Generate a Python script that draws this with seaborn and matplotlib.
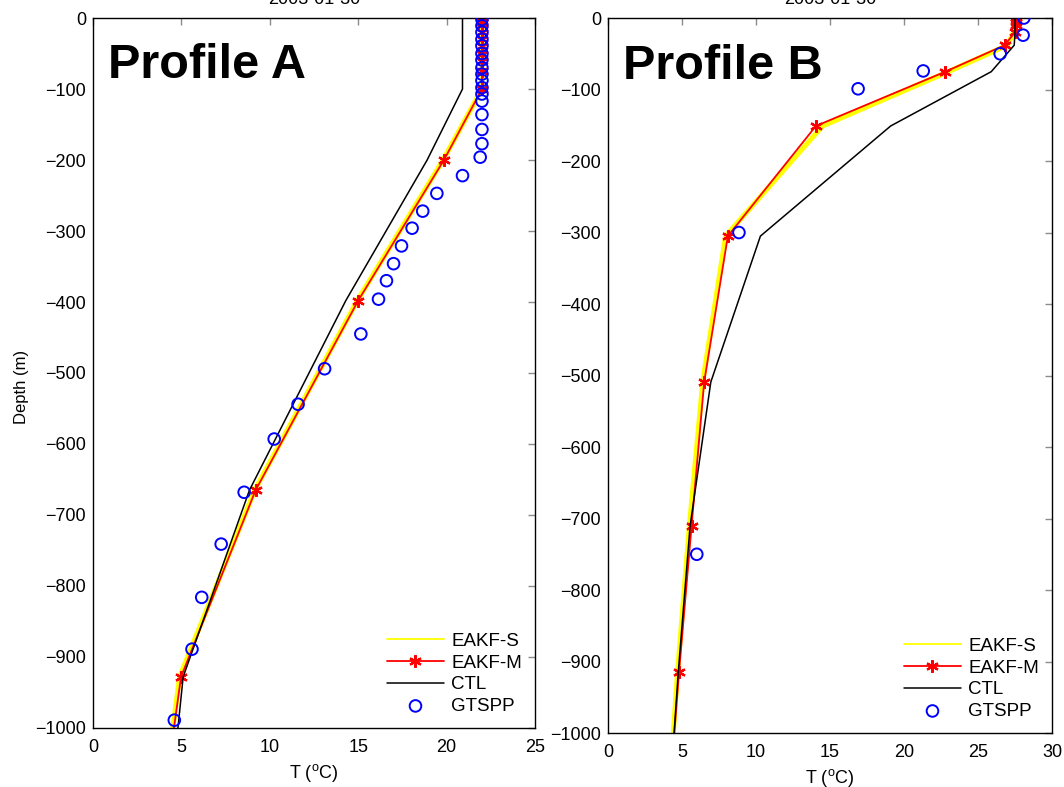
"""
Temperature profiles: EAKF-S / EAKF-M / CTL model runs against GTSPP observations.
"""

import numpy as np
import matplotlib
matplotlib.use("Agg")
import matplotlib.pyplot as plt
import seaborn as sns

# ---- Profile A -------------------------------------------------------------
depth_model_a = [0, 5, 10, 20, 30, 40, 50, 60, 75, 100, 200, 398, 665, 928, 1050]
eakf_s_a = [22.0, 22.0, 22.0, 22.0, 22.0, 22.0, 22.0, 22.0, 22.0, 22.0, 19.8, 14.95, 9.15, 4.9, 4.25]
eakf_m_a = [22.0, 22.0, 22.0, 22.0, 22.0, 22.0, 22.0, 22.0, 22.0, 22.0, 19.85, 15.0, 9.2, 4.98, 4.3]
ctl_a = [20.9, 20.9, 20.9, 20.9, 20.9, 20.9, 20.9, 20.9, 20.9, 20.9, 18.9, 14.3, 8.85, 5.1, 4.6]

depth_obs_a = [2, 11, 20, 30, 39, 50, 59, 70, 79, 88, 98, 107, 117, 136, 157, 177, 196,
               222, 247, 272, 296, 321, 346, 370, 396, 445, 494, 544, 593, 668, 741,
               816, 889, 989]
gtspp_a = [22.0, 22.0, 22.0, 22.0, 22.0, 22.0, 22.0, 22.0, 22.0, 22.0, 22.0, 22.0, 22.0,
           22.0, 22.0, 22.0, 21.9, 20.9, 19.45, 18.65, 18.05, 17.45, 17.0, 16.6, 16.15,
           15.15, 13.1, 11.6, 10.25, 8.55, 7.25, 6.15, 5.6, 4.6]

# ---- Profile B -------------------------------------------------------------
depth_model_b = [0, 5, 10, 20, 38, 75, 151, 305, 509, 710, 915, 1050]
eakf_s_b = [27.6, 27.6, 27.55, 27.4, 27.0, 23.0, 14.5, 7.95, 6.4, 5.5, 4.7, 4.25]
eakf_m_b = [27.6, 27.6, 27.6, 27.5, 26.8, 22.8, 14.05, 8.1, 6.5, 5.65, 4.8, 4.3]
ctl_b = [27.5, 27.5, 27.5, 27.5, 27.45, 25.9, 19.1, 10.3, 6.95, 5.55, 4.75, 4.3]

depth_obs_b = [0, 24, 50, 74, 99, 300, 750]
gtspp_b = [28.1, 28.05, 26.5, 21.3, 16.9, 8.85, 6.0]

date_label = "2003-01-30"
x_ticks_a = [0, 5, 10, 15, 20, 25]
x_ticks_b = [0, 5, 10, 15, 20, 25, 30]
y_ticks = list(range(-1000, 1, 100))

sns.set_style("white")
plt.rcParams["font.family"] = ["Liberation Sans", "DejaVu Sans"]
plt.rcParams["mathtext.fontset"] = "custom"
plt.rcParams["mathtext.rm"] = "Liberation Sans"
plt.rcParams.update({
    "text.color": "black",
    "axes.labelcolor": "black",
    "xtick.labelcolor": "black",
    "ytick.labelcolor": "black",
})


def draw_profile(ax, depth_model, s_vals, m_vals, ctl_vals, depth_obs, obs_vals,
                 name, x_ticks):
    """One depth profile panel in the MATLAB look of the original."""
    zm = -np.asarray(depth_model, dtype=float)
    zo = -np.asarray(depth_obs, dtype=float)

    sns.lineplot(x=s_vals, y=zm, sort=False, estimator=None, color="#ffff00",
                 linewidth=3.6, label="EAKF-S", ax=ax)
    sns.lineplot(x=m_vals, y=zm, sort=False, estimator=None, color="#ff0000",
                 linewidth=1.3, marker=(6, 2, 0), markersize=9, markeredgewidth=1.6,
                 markeredgecolor="#ff0000", label="EAKF-M", ax=ax)
    sns.lineplot(x=ctl_vals, y=zm, sort=False, estimator=None, color="black",
                 linewidth=1.1, label="CTL", ax=ax)
    sns.scatterplot(x=obs_vals, y=zo, marker="o", s=70, facecolors="none",
                    edgecolor="#0000ff", linewidth=1.4, label="GTSPP", ax=ax, zorder=5)

    ax.set_xlim(x_ticks[0], x_ticks[-1])
    ax.set_ylim(-1000, 0)
    ax.set_xticks(x_ticks)
    ax.set_yticks(y_ticks)
    ax.tick_params(direction="in", top=True, right=True, length=5, width=1,
                   color="0.55", labelsize=13, pad=5)
    ax.tick_params(axis="x", pad=8)
    for sp in ax.spines.values():
        sp.set_color("black")
        sp.set_linewidth(1.0)

    ax.set_xlabel(r"T ($^{\rm o}$C)", fontsize=13, labelpad=4)
    ax.set_title(date_label, fontsize=13, pad=10)
    ax.text(0.034, 0.915, name, transform=ax.transAxes, fontsize=35,
            fontweight="bold", va="baseline", ha="left", color="black")

    leg = ax.legend(loc="lower right", frameon=False, fontsize=13.5, handlelength=3.0,
                    handletextpad=0.4, labelspacing=0.24, borderaxespad=0.3)
    # MATLAB draws the legend sample of the wide yellow line thin
    leg.get_lines()[0].set_linewidth(1.3)


fig = plt.figure(figsize=(10.64, 7.87), dpi=100)
ax_a = fig.add_axes([0.0874, 0.0750, 0.4154, 0.9021])
ax_b = fig.add_axes([0.5714, 0.0686, 0.4173, 0.9085])

draw_profile(ax_a, depth_model_a, eakf_s_a, eakf_m_a, ctl_a, depth_obs_a, gtspp_a,
             "Profile A", x_ticks_a)
draw_profile(ax_b, depth_model_b, eakf_s_b, eakf_m_b, ctl_b, depth_obs_b, gtspp_b,
             "Profile B", x_ticks_b)
ax_a.set_ylabel("Depth (m)", fontsize=12)
ax_a.yaxis.set_label_coords(-0.145, 0.48)

fig.savefig("out.png", dpi=100)
plt.close(fig)
